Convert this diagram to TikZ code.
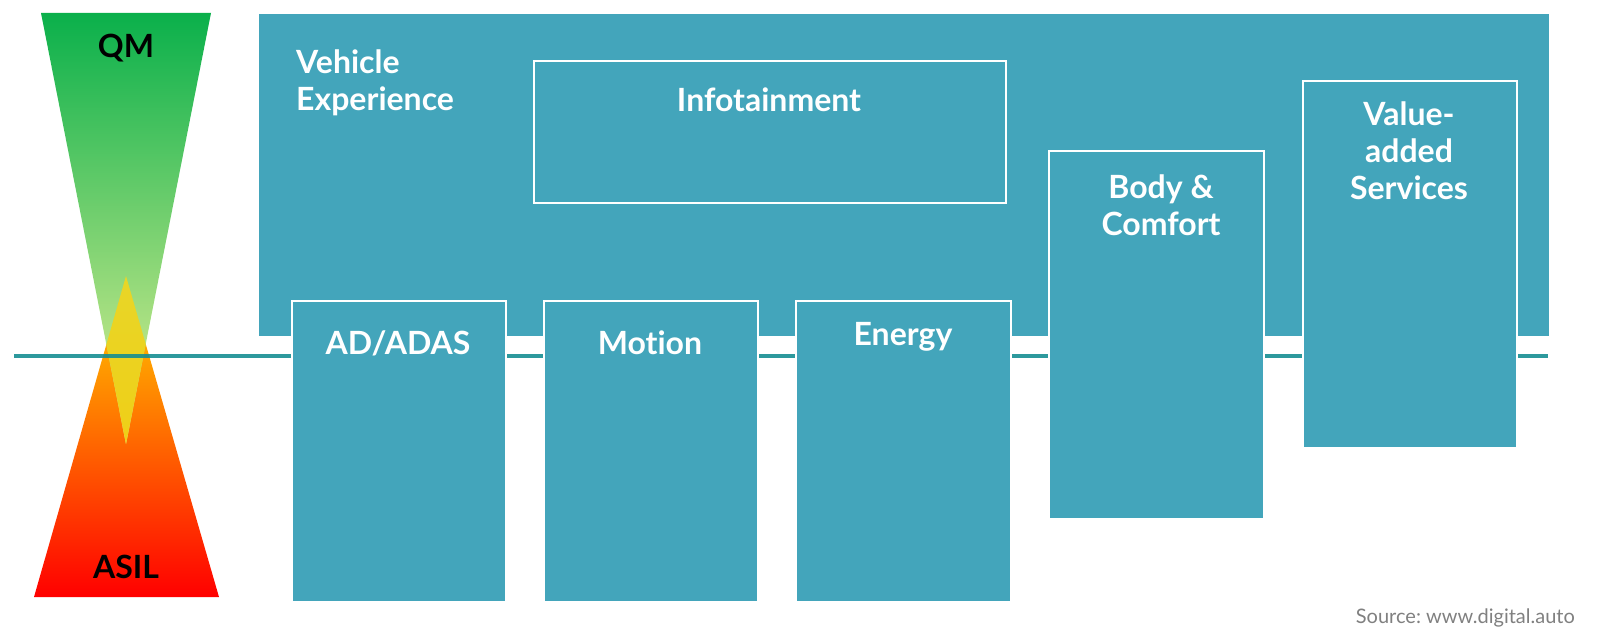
\documentclass[tikz,border=0pt]{standalone}
\usepackage{fontspec}
\setmainfont{Lato}[Ligatures=NoCommon]
\usepackage{tikz}
\definecolor{domain}{RGB}{67,165,187}
\definecolor{tealline}{RGB}{22,142,146}
\definecolor{qmgreen}{RGB}{10,176,75}
\definecolor{qmmid}{RGB}{100,192,80}
\definecolor{qmlight}{RGB}{230,242,150}
\definecolor{asilyellow}{RGB}{255,215,0}
\definecolor{asilorange}{RGB}{255,150,0}
\definecolor{asilred}{RGB}{255,0,0}
\definecolor{mixtop}{RGB}{232,214,40}
\definecolor{mixbot}{RGB}{246,200,8}
\definecolor{srcgray}{RGB}{128,128,128}

\begin{document}
\begin{tikzpicture}[x=1pt,y=-1pt]
\tikzstyle{dom}=[fill=domain,draw=white,line width=1.6pt,anchor=north west,inner sep=0pt]
\tikzstyle{lbl}=[text=white,font=\fontsize{32}{37}\selectfont\bfseries,align=center,anchor=base,inner sep=0pt]
\tikzstyle{lvl}=[text=black,font=\fontsize{32}{37}\selectfont\bfseries,anchor=base,inner sep=0pt]

\useasboundingbox (0,0) rectangle (1600,644);

% QM / ASIL scale
\shade[top color=asilyellow,middle color=asilorange,bottom color=asilred]
	(126,276) -- (219,597) -- (34,597) -- cycle;
\shade[top color=qmgreen,middle color=qmmid,bottom color=qmlight]
	(41,13) -- (211,13) -- (126,444) -- cycle;
\begin{scope}
	\clip (41,13) -- (211,13) -- (126,444) -- cycle;
	\shade[top color=mixtop,bottom color=mixbot] (126,276) -- (219,597) -- (34,597) -- cycle;
\end{scope}
\node[lvl] (qm) at (126,58) {QM};
\node[lvl] (asil) at (126,578) {ASIL};

\coordinate (lineL) at (14,356);
\coordinate (lineR) at (1548,356);
\draw[tealline,line width=4pt,opacity=.9] (lineL) -- (lineR);

% domains
\node[dom,draw=none,minimum width=1290pt,minimum height=322pt] (ve) at (258,13) {};
\node[lbl,anchor=base west,align=left] (vet) at (296,111) {Vehicle\\Experience};

\node[dom,minimum width=472pt,minimum height=142pt] (info) at (533,60) {};
\node[lbl] (infot) at (769,112) {Infotainment};

\node[dom,minimum width=215pt,minimum height=368pt] (body) at (1048,150) {};
\node[lbl] (bodyt) at (1161,235.5) {Body \&\\Comfort};

\node[dom,minimum width=214pt,minimum height=367pt] (value) at (1302,80) {};
\node[lbl] (valuet) at (1409,200) {Value-\\added\\Services};

\node[dom,minimum width=214pt,minimum height=301pt] (adas) at (291,300) {};
\node[lbl] (adast) at (398,354) {AD/ADAS};

\node[dom,minimum width=214pt,minimum height=301pt] (motion) at (543,300) {};
\node[lbl] (motiont) at (650,354) {Motion};

\node[dom,minimum width=215pt,minimum height=301pt] (energy) at (795,300) {};
\node[lbl] (energyt) at (903,345) {Energy};

\node[font=\fontsize{20}{24}\selectfont,text=srcgray,anchor=base east,inner sep=0pt] (src)
	at (1575,623.5) {Source:\ www.digital.auto};
\end{tikzpicture}
\end{document}
